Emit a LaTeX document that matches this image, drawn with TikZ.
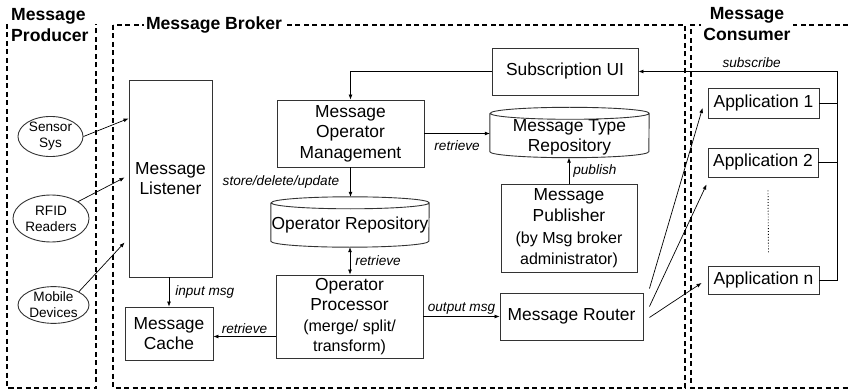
\documentclass[tikz,border=0pt]{standalone}
\usepackage{fontspec}
\setmainfont{Liberation Sans}
\usetikzlibrary{shapes,arrows,positioning,calc,arrows.meta}

\tikzset{
  box/.style={draw=black!80, line width=0.9pt, align=center, inner sep=0pt,
    font=\fontsize{17.4}{20.5}\selectfont},
  dbnode/.style={inner sep=0pt, minimum width=159pt, minimum height=50pt},
  dbline/.style={draw=black!80, line width=0.9pt},
  src/.style={ellipse, draw=black!80, line width=0.9pt, align=center, inner sep=0pt,
    font=\fontsize{13.6}{16}\selectfont},
  lbl/.style={font=\fontsize{13.6}{16}\selectfont\itshape, inner sep=1pt},
  zone/.style={line width=1.4pt, dash pattern=on 5pt off 3.5pt},
  ttl/.style={font=\fontsize{17.6}{21}\selectfont\bfseries, fill=white, inner sep=2pt},
  flow/.style={-{Latex[length=5pt,width=4pt]}, line width=0.7pt},
}
\newcommand{\smalltxt}{\fontsize{16}{19.5}\selectfont}

\begin{document}
\begin{tikzpicture}[x=1pt, y=-1pt]
    \useasboundingbox (0,0) rectangle (848,390);

    % zones
    \draw[zone] (7,24) -- (7,388) -- (96,388) -- (96,24);
    \draw[zone] (113,25) rectangle (685,388);
    \draw[zone] (848,25) -- (691,25) -- (691,388) -- (848,388);
    \node[ttl, fill=none, anchor=west, align=left] (prodttl) at (9,25.5) {Message\\Producer};
    \node[ttl] (brokerttl) at (214,25) {Message Broker};
    \node[ttl, align=center] (consttl) at (747,24.5) {Message\\Consumer};

    % producers
    \node[src, minimum width=65pt, minimum height=33pt] (sensor) at (50.5,136.5) {Sensor\\Sys};
    \node[src, minimum width=76pt, minimum height=47pt] (rfid) at (51,218.5) {RFID\\Readers};
    \node[src, minimum width=71pt, minimum height=36pt] (mobile) at (53.5,305) {Mobile\\Devices};

    % broker
    \node[box, minimum width=83pt, minimum height=197pt] (listener) at (170.5,178.5) {Message\\Listener};
    \node[box, minimum width=88pt, minimum height=53pt] (cache) at (169,333.5) {Message\\Cache};
    \node[box, minimum width=147pt, minimum height=67pt] (mom) at (350.5,133.5) {Message\\Operator\\Management};
    \node[box, minimum width=146pt, minimum height=47pt] (subui) at (565,71.5) {Subscription UI};
    \node[box, minimum width=147pt, minimum height=83pt] (op) at (349.5,316.5)
        {Operator\\Processor\\{\smalltxt (merge/ split/}\\{\smalltxt transform)}};
    \node[box, minimum width=143pt, minimum height=47pt] (router) at (571.5,316.5) {Message Router};
    \node[box, minimum width=136pt, minimum height=88pt] (publisher) at (569,228)
        {Message\\Publisher\\[2pt]{\smalltxt (by Msg broker}\\{\smalltxt administrator)}};

    \node[dbnode, label={[box, draw=none, yshift=-5pt]center:{Message Type\\Repository}}] (mtr) at (569.5,132.5) {};
    \node[dbnode, minimum width=158pt, label={[box, draw=none, yshift=-3pt]center:{Operator Repository}}] (oprepo) at (350,222) {};
    \draw[dbline] ([yshift=-6pt]mtr.north west) -- ([yshift=6pt]mtr.south west)
        arc[start angle=180, end angle=360, x radius=79.5pt, y radius=6pt]
        -- ([yshift=-6pt]mtr.north east)
        arc[start angle=0, end angle=180, x radius=79.5pt, y radius=6pt]
        arc[start angle=180, end angle=360, x radius=79.5pt, y radius=6pt];
    \draw[dbline] ([yshift=-6pt]oprepo.north west) -- ([yshift=6pt]oprepo.south west)
        arc[start angle=180, end angle=360, x radius=79pt, y radius=6pt]
        -- ([yshift=-6pt]oprepo.north east)
        arc[start angle=0, end angle=180, x radius=79pt, y radius=6pt]
        arc[start angle=180, end angle=360, x radius=79pt, y radius=6pt];

    % consumers
    \node[box, minimum width=111pt, minimum height=30pt] (app1) at (763.5,103) {Application 1};
    \node[box, minimum width=110pt, minimum height=29pt] (app2) at (763,162.5) {Application 2};
    \node[box, minimum width=111pt, minimum height=28pt] (appn) at (763.5,280) {Application n};
    \coordinate (subcorner) at (837,71.5);

    % connectors
    \draw[flow] (sensor.east) -- ([yshift=60pt]listener.west);
    \draw[flow] (rfid.north east) -- ([xshift=-4pt,yshift=1pt]listener.west);
    \draw[flow] (mobile.north east) -- ([xshift=-4pt,yshift=-64pt]listener.west);
    \draw[flow] (cache.north |- listener.south) -- node[lbl, right=5pt] {input msg} (cache.north);

    \draw[flow] (subui.west) -| (mom.north);
    \draw[flow] (mom.east) -- node[lbl, below=6pt] {retrieve} (mom.east -| mtr.west);
    \draw[flow] (mom.south) -- node[lbl, left=10pt] {store/delete/update} (mom.south |- oprepo.north);
    \draw[{Latex[length=5pt,width=4pt]}-{Latex[length=5pt,width=4pt]}, line width=0.7pt]
        (oprepo.south) -- node[lbl, right=4pt] {retrieve} (oprepo.south |- op.north);
    \draw[flow] ([yshift=-20pt]op.west) -- node[lbl, above=2pt] {retrieve} ([yshift=-20pt]op.west -| cache.east);
    \draw[flow] (op.east) -- node[lbl, above=1pt] {output msg} (router.west);
    \draw[flow] (publisher.north) -- node[lbl, right=3pt] {publish} (publisher.north |- mtr.south);

    \draw[flow] ([xshift=6pt,yshift=28pt]router.east) -- ([xshift=-5pt,yshift=-5pt]app1.west);
    \draw[flow] ([xshift=6pt,yshift=10pt]router.east) -- ([xshift=-1pt,yshift=-22pt]app2.west);
    \draw[flow] ([xshift=6pt,yshift=-1pt]router.east) -- ([xshift=-6pt,yshift=-3pt]appn.west);

    \draw[line width=0.8pt] (app1.east) -- (app1.east -| subcorner);
    \draw[line width=0.8pt] (app2.east) -- (app2.east -| subcorner);
    \draw[flow, line width=0.8pt] (appn.east) -- (appn.east -| subcorner) -- (subcorner)
        -- node[lbl, above=2pt, pos=0.43] {subscribe} (subui.east);
    \draw[dotted, line width=0.9pt] ([xshift=5pt,yshift=-13pt]app2.south) -- ([xshift=5pt,yshift=13pt]appn.north);
\end{tikzpicture}
\end{document}
